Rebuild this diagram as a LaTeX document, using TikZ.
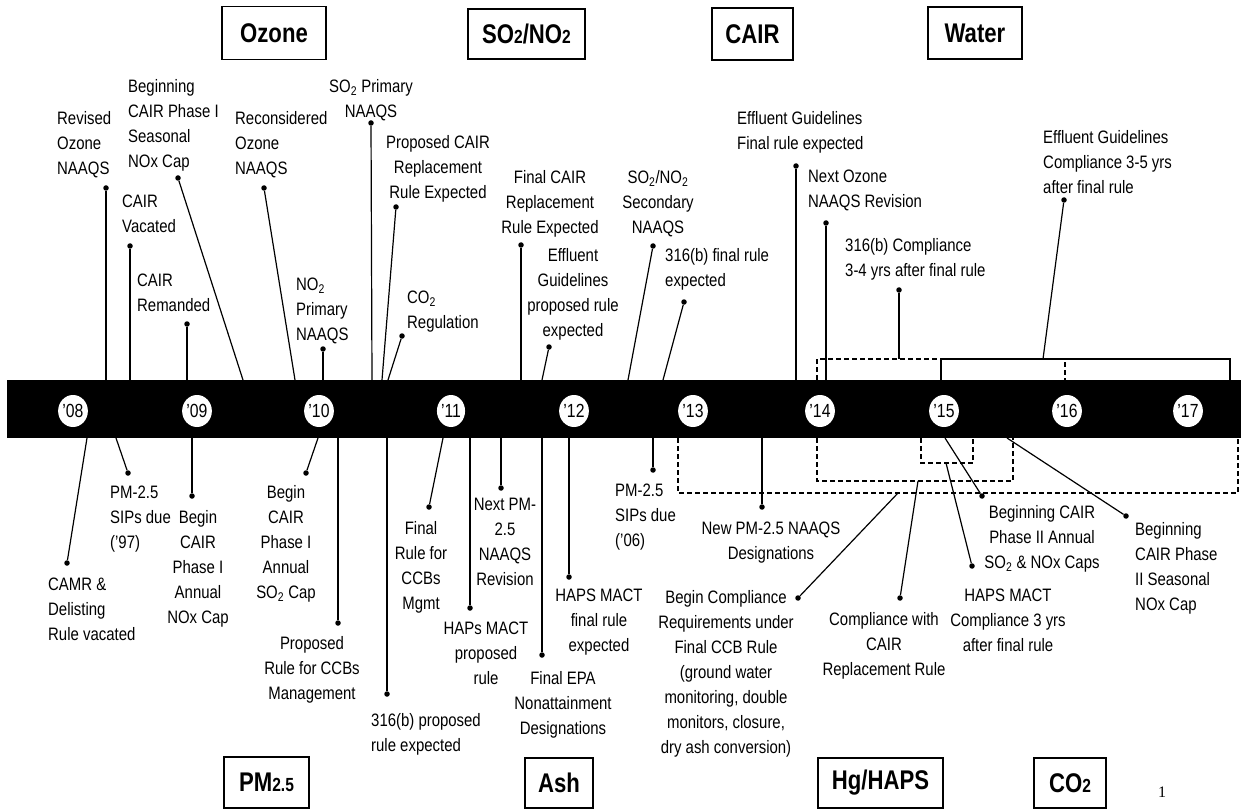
\documentclass[tikz,border=0pt]{standalone}
\usepackage{fontspec}
\setmainfont{Liberation Sans}[FakeStretch=0.83]
\newfontfamily\boxfamily{Liberation Sans}[FakeStretch=0.82]
\newfontfamily\pagefamily{Liberation Serif}
\usetikzlibrary{shapes.geometric}

\newcommand{\boxsub}[1]{{\fontsize{19}{19}\selectfont #1}}

\tikzset{
  evlabel/.style={inner sep=0pt, font=\fontsize{18}{25}\selectfont},
  lefttext/.style={evlabel, anchor=north west, align=left},
  midtext/.style={evlabel, anchor=north, align=center},
  evdot/.style={circle, fill=black, inner sep=0pt, minimum size=5.5pt},
  evline/.style={line width=1.2pt},
  spanline/.style={line width=1.3pt, dash pattern=on 5pt off 3pt},
  topicbox/.style={draw, line width=1.2pt, inner sep=0pt,
    font=\boxfamily\bfseries\fontsize{27}{27}\selectfont},
  yearmark/.style={ellipse, fill=white, inner sep=0pt, minimum width=28pt,
    minimum height=32pt, font=\fontsize{19}{19}\selectfont},
}

\begin{document}
\begin{tikzpicture}[x=1pt, y=-1pt]

\useasboundingbox (0,0) rectangle (1247,810);

% Topic boxes, top row
\node[topicbox, minimum width=104pt, minimum height=53pt] (ozone) at (274,33) {Ozone};
\node[topicbox, minimum width=117pt, minimum height=50pt] (sono) at (526.5,34) {SO\boxsub{2}/NO\boxsub{2}};
\node[topicbox, minimum width=81pt, minimum height=52pt] (cair) at (752.5,34) {CAIR};
\node[topicbox, minimum width=94pt, minimum height=52pt] (water) at (975,33) {Water};

% Topic boxes, bottom row
\node[topicbox, minimum width=85pt, minimum height=51pt] (pm) at (266.5,782.5) {PM\boxsub{2.5}};
\node[topicbox, minimum width=68pt, minimum height=50pt] (ash) at (559,783) {Ash};
\node[topicbox, minimum width=125pt, minimum height=50pt] (hg) at (880.5,783) {Hg/HAPS};
\node[topicbox, minimum width=72pt, minimum height=50pt] (co) at (1070,783) {CO\boxsub{2}};

% Page number
\node[font=\pagefamily\fontsize{16}{16}\selectfont] (pagenum) at (1162,792) {1};

% Events above the timeline
\node[lefttext] (revoz) at (57,111) {Revised\\Ozone\\NAAQS};
\node[lefttext] (begcs) at (128,79) {Beginning\\CAIR Phase I\\Seasonal\\NOx Cap};
\node[lefttext] (cairvac) at (122,195) {CAIR\\Vacated};
\node[lefttext] (cairrem) at (137,274) {CAIR\\Remanded};
\node[lefttext] (reconoz) at (235,111) {Reconsidered\\Ozone\\NAAQS};
\node[lefttext] (notwo) at (296,278) {NO\textsubscript{2}\\Primary\\NAAQS};
\node[midtext] (sotwo) at (371,79) {SO\textsubscript{2} Primary\\NAAQS};
\node[midtext] (propcair) at (438,135) {Proposed CAIR\\Replacement\\Rule Expected};
\node[lefttext] (cotwo) at (407,291) {CO\textsubscript{2}\\Regulation};
\node[midtext] (finalcair) at (550,170) {Final CAIR\\Replacement\\Rule Expected};
\node[midtext] (effprop) at (573,248) {Effluent\\Guidelines\\proposed rule\\expected};
\node[midtext] (sonosec) at (658,170) {SO\textsubscript{2}/NO\textsubscript{2}\\Secondary\\NAAQS};
\node[lefttext] (final316) at (665,248) {316(b) final rule\\expected};
\node[lefttext] (efffinal) at (737,111) {Effluent Guidelines\\Final rule expected};
\node[lefttext] (nextoz) at (808,170) {Next Ozone\\NAAQS Revision};
\node[lefttext] (comp316) at (845,238) {316(b) Compliance\\3-4 yrs after final rule};
\node[lefttext] (effcomp) at (1043,130) {Effluent Guidelines\\Compliance 3-5 yrs\\after final rule};

% Events below the timeline
\node[lefttext] (camr) at (48,578) {CAMR \&\\Delisting\\Rule vacated};
\node[lefttext] (pmsips97) at (110,486) {PM-2.5\\SIPs due\\('97)};
\node[midtext] (begnox) at (198,510) {Begin\\CAIR\\Phase I\\Annual\\NOx Cap};
\node[midtext] (begso) at (286,485) {Begin\\CAIR\\Phase I\\Annual\\SO\textsubscript{2} Cap};
\node[midtext] (propccb) at (312,636) {Proposed\\Rule for CCBs\\Management};
\node[lefttext] (prop316) at (371,713) {316(b) proposed\\rule expected};
\node[midtext] (finalccb) at (421,521) {Final\\Rule for\\CCBs\\Mgmt};
\node[midtext] (hapsprop) at (486,622) {HAPs MACT\\proposed\\rule};
\node[midtext] (nextpm) at (505,498) {Next PM-\\2.5\\NAAQS\\Revision};
\node[midtext] (finalepa) at (563,671) {Final EPA\\Nonattainment\\Designations};
\node[midtext] (hapsfinal) at (599,589) {HAPS MACT\\final rule\\expected};
\node[lefttext] (pmsips06) at (615,484) {PM-2.5\\SIPs due\\('06)};
\node[midtext] (newpm) at (771,522) {New PM-2.5 NAAQS\\Designations};
\node[midtext] (begcomp) at (726,590) {Begin Compliance\\Requirements under\\Final CCB Rule\\(ground water\\monitoring, double\\monitors, closure,\\dry ash conversion)};
\node[midtext] (compcair) at (884,612) {Compliance with\\CAIR\\Replacement Rule};
\node[midtext] (hapscomp) at (1008,589) {HAPS MACT\\Compliance 3 yrs\\after final rule};
\node[midtext] (begph2) at (1042,505) {Beginning CAIR\\Phase II Annual\\SO\textsubscript{2} \& NOx Caps};
\node[lefttext] (begph2s) at (1135,522) {Beginning\\CAIR Phase\\II Seasonal\\NOx Cap};

% Compliance spans above the bar
\draw[spanline] (817,380) -- (817,359) -- (1065,359) -- (1065,380);
\draw[evline] (941,380) -- (941,359) -- (1230,359) -- (1230,380);

% Compliance spans below the bar
\draw[spanline] (678,438) -- (678,493) -- (1238,493) -- (1238,438);
\draw[spanline] (817,438) -- (817,481) -- (1013,481) -- (1013,438);
\draw[spanline] (921,438) -- (921,463) -- (973,463) -- (973,438);

% Dots and leader lines: name/dot x/dot y/end x/end y
\foreach \n/\dx/\dy/\bx/\by in {
  revoz/106/188/106/380, begcs/178/178/243/380, cairvac/130/246/130/380,
  cairrem/187/324/187/380, reconoz/264/188/295/380, notwo/323/349/323/380,
  sotwo/371/123/372/380, propcair/396/207/382/380, cotwo/402/336/388/380,
  finalcair/521/245/521/380, effprop/549/347/542/380, sonosec/653/246/628/380,
  final316/684/302/663/380, efffinal/796/166/796/380, nextoz/826/223/826/380,
  comp316/899/290/899/359, effcomp/1064/200/1043/359,
  camr/67/563/87/438, pmsips97/128/473/116/438, begnox/192/496/192/438,
  begso/306/473/318/438, propccb/338/623/338/438, prop316/387/694/387/438,
  finalccb/429/507/443/438, hapsprop/470/608/470/438, nextpm/501/488/501/438,
  finalepa/542/655/542/438, hapsfinal/569/577/569/438, pmsips06/653/470/653/438,
  newpm/762/507/762/438, begcomp/798/598/898/493, compcair/900/598/918/481,
  hapscomp/972/566/946/463, begph2/982/496/945/438, begph2s/1126/516/1007/438} {
  \node[evdot] (\n-d) at (\dx,\dy) {};
  \coordinate (\n-b) at (\bx,\by);
  \draw[evline] (\n-d) -- (\n-b);
}

% Timeline bar
\fill[black] (7,380) rectangle (1241,438);

% Year markers
\foreach \yr/\x in {08/73, 09/197, 10/319, 11/451, 12/574, 13/693,
                    14/820, 15/944, 16/1067, 17/1188}
  \node[yearmark] (y\yr) at (\x,411) {'\yr};

\end{tikzpicture}
\end{document}
